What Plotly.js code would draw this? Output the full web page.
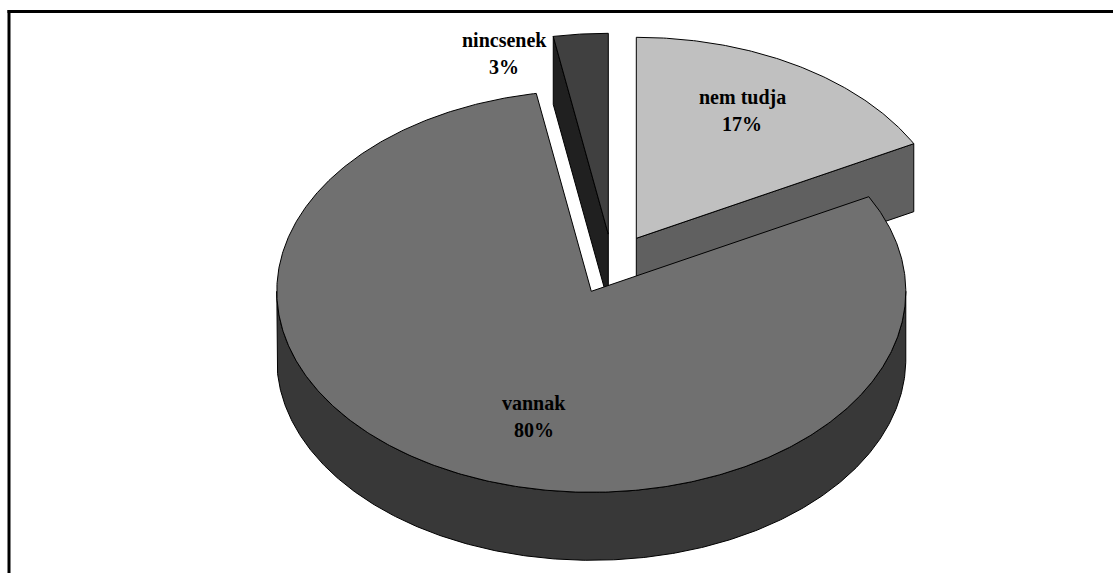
<!DOCTYPE html>
<html>
<head>
<meta charset="utf-8">
<script src="https://cdn.plot.ly/plotly-3.0.1.min.js"></script>
<style>html,body{margin:0;padding:0;background:#fff}#chart{width:1113px;height:573px}</style>
</head>
<body>
<div id="chart"></div>
<script>
// Data
const categories = ["nem tudja", "vannak", "nincsenek"];
const values = [17.2, 80, 2.8];
const percentLabels = ["17%", "80%", "3%"];

// Styles and placement
const faceColors = ["#c0c0c0", "#707070", "#404040"];
const wallColors = ["#606060", "#383838", "#202020"];
const explodeX = [45, 0, 17];
const explodeY = [-53, 0, -57];
const labelX = [742, 534, 504];
const labelY = [97, 403, 40];
const lineGap = 26.5;
const CX = 591.3, CY = 291.3, RX = 314.5, RY = 201, DEPTH = 68;

const total = values.reduce((a, b) => a + b, 0);
const toAngle = v => v / total * 360;
function rimPoint(deg, i, drop) {
  const a = deg * Math.PI / 180;
  return [CX + explodeX[i] + RX * Math.sin(a), CY + explodeY[i] + RY * -Math.cos(a) + drop];
}
function arc(from, to, i, drop) {
  const pts = [], n = Math.max(2, Math.ceil(Math.abs(to - from) * 2));
  for (let k = 0; k <= n; k++) pts.push(rimPoint(from + (to - from) * k / n, i, drop));
  return pts;
}
function polygon(pts, color, name) {
  const closed = pts.concat([pts[0]]);
  return {
    type: "scatter", mode: "lines", x: closed.map(p => p[0]), y: closed.map(p => p[1]),
    fill: "toself", fillcolor: color, line: {color: "#000", width: 1, shape: "linear"},
    hoverinfo: "text", text: name, showlegend: false
  };
}

let cursor = 0;
const ranges = values.map(v => { const r = [cursor, cursor + toAngle(v)]; cursor = r[1]; return r; });

function apex(i, drop) { return [CX + explodeX[i], CY + explodeY[i] + drop]; }

const traces = [];
// Back wedges first, the large wedge on top of them
[2, 0].forEach(i => {
  const [s, e] = ranges[i];
  const edge = i === 0 ? e : s;
  traces.push(polygon([rimPoint(edge, i, 0), rimPoint(edge, i, DEPTH), apex(i, DEPTH), apex(i, 0)], wallColors[i], categories[i]));
  traces.push(polygon(arc(s, e, i, 0).concat([apex(i, 0)]), faceColors[i], categories[i]));
});
{
  const i = 1, [s, e] = ranges[i];
  const wallTop = arc(90, 270, i, 0);
  const wallBottom = arc(270, 90, i, DEPTH);
  traces.push(polygon(wallTop.concat(wallBottom), wallColors[i], categories[i]));
  traces.push(polygon(arc(s, e, i, 0).concat([apex(i, 0)]), faceColors[i], categories[i]));
}

const labelFont = {family: "'Liberation Serif', serif", size: 20, color: "#000", weight: 700};
const annotations = [];
categories.forEach((c, i) => {
  [c, percentLabels[i]].forEach((t, k) => annotations.push({
    x: labelX[i], y: labelY[i] + k * lineGap, xref: "x", yref: "y", text: t,
    showarrow: false, font: labelFont, xanchor: "center", yanchor: "middle"
  }));
});

const layout = {
  width: 1113, height: 573, margin: {l: 0, r: 0, t: 0, b: 0},
  paper_bgcolor: "#fff", plot_bgcolor: "#fff", showlegend: false,
  xaxis: {range: [0, 1113], visible: false, fixedrange: true},
  yaxis: {range: [573, 0], visible: false, fixedrange: true},
  shapes: [
    {type: "line", xref: "paper", yref: "paper", x0: 9 / 1113, x1: 9 / 1113, y0: 0, y1: 1 - 10 / 573, line: {color: "#000", width: 3}},
    {type: "line", xref: "paper", yref: "paper", x0: 7.5 / 1113, x1: 1, y0: 1 - 11.5 / 573, y1: 1 - 11.5 / 573, line: {color: "#000", width: 3}}
  ],
  annotations
};
Plotly.newPlot("chart", traces, layout, {displayModeBar: false, staticPlot: true});
</script>
</body>
</html>
